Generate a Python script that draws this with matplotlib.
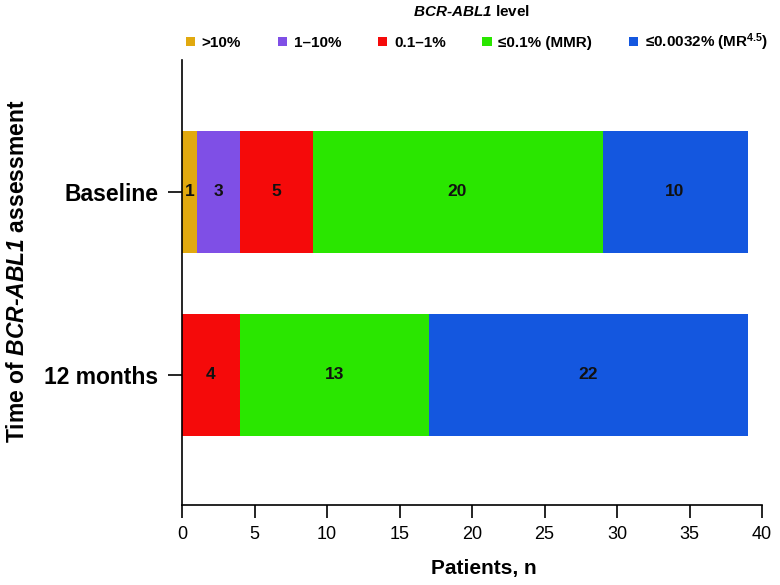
import numpy as np
import matplotlib.pyplot as plt

plt.rcParams['font.family'] = ['Liberation Sans', 'DejaVu Sans']
plt.rcParams['mathtext.fontset'] = 'custom'
plt.rcParams['mathtext.rm'] = 'Liberation Sans:italic:bold'
plt.rcParams['mathtext.it'] = 'Liberation Sans:italic:bold'
plt.rcParams['mathtext.bf'] = 'Liberation Sans:bold'

timepoints = ['12 months', 'Baseline']
levels = ['>10%', '1–10%', '0.1–1%', '≤0.1% (MMR)', '≤0.0032% (MR$^{\\mathbf{4.5}}$)']
colors = ['#E1A90F', '#7F4FE6', '#F50A0A', '#2AE600', '#1457DF']
# counts per level, order: 12 months, Baseline
counts = [
    [0, 1],
    [0, 3],
    [4, 5],
    [13, 20],
    [22, 10],
]

fig = plt.figure(figsize=(7.8, 5.85), dpi=100)
ax = fig.add_axes([182/780, 80/585, 580/780, 445/585])

y = np.arange(len(timepoints))
left = np.zeros(len(timepoints))
for lab, col, vals in zip(levels, colors, counts):
    vals = np.array(vals, dtype=float)
    ax.barh(y, vals, left=left, height=0.67, color=col, label=lab)
    for yi, l, v in zip(y, left, vals):
        if v > 0:
            ax.text(l + v / 2, yi, str(int(v)), ha='center', va='center',
                    fontsize=12.5, fontweight='bold', color='#111111')
    left += vals

ax.set_xlim(0, 40)
ax.set_ylim(-0.71, 1.72)
ax.set_xticks(np.arange(0, 41, 5))
ax.set_yticks(y)
ax.set_yticklabels(timepoints, fontsize=16.5, fontweight='bold')
ax.tick_params(axis='x', labelsize=13, length=9, width=1.2, pad=6)
ax.tick_params(axis='y', length=10, width=1.2, pad=7)
for s in ['top', 'right']:
    ax.spines[s].set_visible(False)
for s in ['left', 'bottom']:
    ax.spines[s].set_linewidth(1.2)

ax.set_xlabel('Patients, n', fontsize=15, fontweight='bold')
ax.xaxis.set_label_coords(0.52, -0.122)
ax.set_ylabel('Time of $\\mathrm{BCR\u2010ABL1}$ assessment', fontsize=16.5,
              fontweight='bold')
ax.yaxis.set_label_coords(-0.264, 0.526)

fig.legend(loc='center', bbox_to_anchor=(477/780, 1 - 42/585), ncol=5,
           frameon=False, handlelength=0.6, handleheight=0.6,
           handletextpad=0.45, columnspacing=2.4,
           prop={'size': 11, 'weight': 'bold'})
fig.text(472/780, 1 - 12/585, '$\\mathrm{BCR\u2010ABL1}$ level', ha='center', va='center',
         fontsize=11, fontweight='bold')

fig.savefig('out.png', dpi=100)
